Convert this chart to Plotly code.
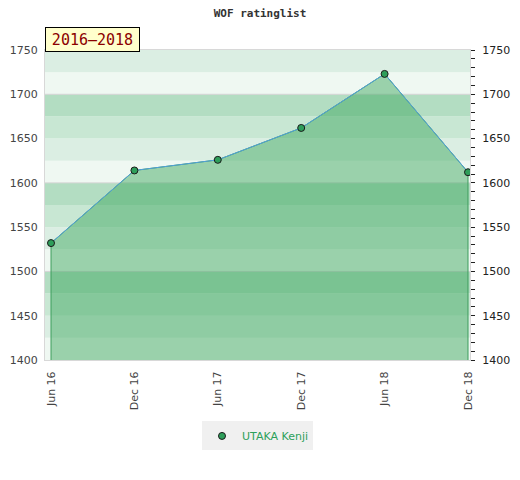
import plotly.graph_objects as go

# ratings
periods = ["Jun 16", "Dec 16", "Jun 17", "Dec 17", "Jun 18", "Dec 18"]
ratings = [1532, 1614, 1626, 1662, 1723, 1612]
player = "UTAKA Kenji"

y_min, y_max = 1400, 1750
band_step = 25
# band colour by (band start mod 100)
band_colors = {0: "#eff8f2", 25: "#dbeee3", 50: "#c8e7d3", 75: "#b3ddc2"}
grid_values = [1500, 1600, 1700]

marker_style = dict(color="#2e9e5a", size=7, line=dict(color="#1a1a1a", width=1))

fig = go.Figure()

# filled area, closed down to the axis floor at both ends
fig.add_trace(go.Scatter(
    x=[periods[0]] + periods + [periods[-1]],
    y=[y_min] + ratings + [y_min],
    mode="lines",
    fill="toself",
    fillcolor="rgba(61,167,95,0.48)",
    line=dict(color="#3d9d5c", width=1),
    hoverinfo="skip",
    showlegend=False,
))

# rating line with markers
fig.add_trace(go.Scatter(
    x=periods,
    y=ratings,
    mode="lines+markers",
    name=player,
    line=dict(color="#529fdb", width=1),
    marker=marker_style,
    showlegend=False,
))

# legend entry: marker only
fig.add_trace(go.Scatter(x=[None], y=[None], mode="markers", name=player,
                         marker=marker_style))

# a dummy trace so the right axis gets drawn
fig.add_trace(go.Scatter(x=[periods[0]], y=[y_min], yaxis="y2",
                         mode="markers", marker=dict(opacity=0),
                         showlegend=False, hoverinfo="skip"))

shapes = []
for b in range(y_min, y_max, band_step):
    shapes.append(dict(type="rect", xref="paper", yref="y", layer="below",
                       x0=0, x1=1, y0=b, y1=b + band_step,
                       fillcolor=band_colors[b % 100], line=dict(width=0)))
for g in grid_values:
    shapes.append(dict(type="line", xref="paper", yref="y", layer="below",
                       x0=0, x1=1, y0=g, y1=g,
                       line=dict(color="#d4d4d4", width=1)))

tick_font = dict(family="DejaVu Sans", size=11, color="#444444")

fig.update_layout(
    width=520, height=480,
    margin=dict(l=45, r=50, t=50, b=120, autoexpand=False),
    paper_bgcolor="white",
    plot_bgcolor="white",
    title=dict(text="<b>WOF ratinglist</b>", x=0.5, xanchor="center",
               yref="container", y=0.973, yanchor="middle",
               font=dict(family="DejaVu Sans Mono", size=11, color="#333333")),
    shapes=shapes,
    xaxis=dict(
        type="category",
        range=[-0.072, 5.024],
        tickangle=-90,
        tickfont=tick_font,
        showgrid=False,
        zeroline=False,
        showline=True, linecolor="#d8d8d8", linewidth=1, mirror=True,
        ticks="outside", ticklen=6, tickcolor="rgba(0,0,0,0)",
        automargin=False,
    ),
    yaxis=dict(
        range=[y_min, y_max],
        dtick=50,
        tickfont=tick_font,
        showgrid=False,
        zeroline=False,
        showline=True, linecolor="#d8d8d8", linewidth=1, mirror=True,
        ticks="outside", ticklen=4, tickcolor="rgba(0,0,0,0)",
        automargin=False,
    ),
    yaxis2=dict(
        overlaying="y", side="right",
        range=[y_min, y_max],
        dtick=50,
        tickfont=dict(family="DejaVu Sans", size=11, color="#222222"),
        showgrid=False, zeroline=False,
        ticks="outside", ticklen=4, tickcolor="#222222",
        ticklabelstandoff=5,
        minor=dict(dtick=10, ticks="outside", ticklen=4, tickcolor="#222222"),
        automargin=False,
    ),
    legend=dict(
        orientation="h",
        x=0.5, xanchor="center",
        y=-0.245, yanchor="middle",
        bgcolor="#f0f0f0",
        itemwidth=30,
        font=dict(family="DejaVu Sans", size=11, color="#2ca05a"),
    ),
    annotations=[dict(
        text="2016\u20132018",
        xref="paper", yref="paper",
        x=0, y=1, xanchor="left", yanchor="bottom",
        yshift=-2,
        width=87, height=17,
        showarrow=False,
        font=dict(family="DejaVu Sans Mono", size=15, color="#8b0000"),
        bgcolor="#ffffcc",
        bordercolor="#000000", borderwidth=1, borderpad=3,
    )],
)

# drop the page's default body margin so the figure sits at the window corner
fig.write_html("out.html", config={"displayModeBar": False},
               post_script="document.body.style.margin='0px';")
